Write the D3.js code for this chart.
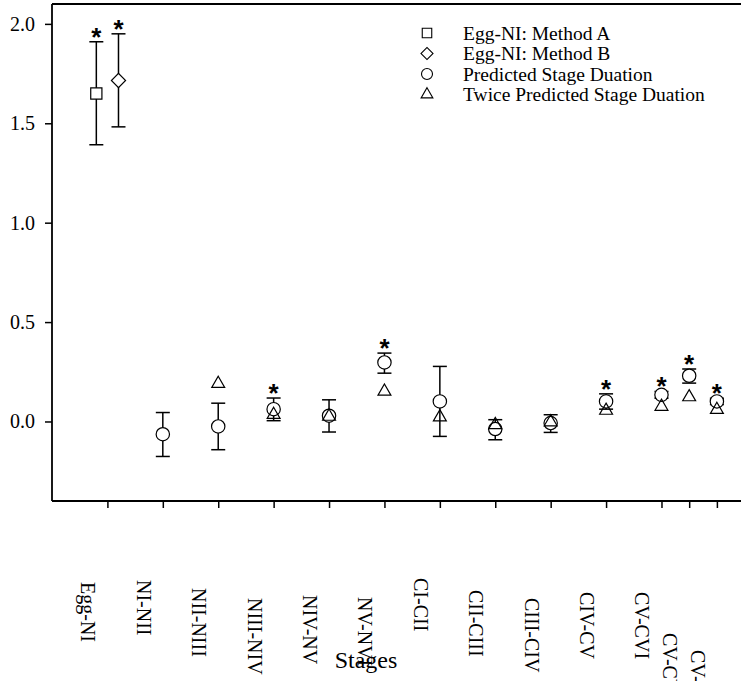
<!DOCTYPE html>
<html>
<head>
<meta charset="utf-8">
<script src="https://cdn.jsdelivr.net/npm/d3@7"></script>
<style>
  body { margin: 0; background: #fff; }
  svg { display: block; }
  text { font-family: "Liberation Serif", "Times New Roman", serif; fill: #000; }
</style>
</head>
<body>
<svg id="chart" width="741" height="681"></svg>
<script>
// ---- data ----
const stages = ["Egg-NI", "NI-NII", "NII-NIII", "NIII-NIV", "NIV-NV", "NV-NVI",
                "CI-CII", "CII-CIII", "CIII-CIV", "CIV-CV", "CV-CVI", "CV-CVI (F)", "CV-CVI (M)"];
const stagePos = [0, 1, 2, 3, 4, 5, 6, 7, 8, 9, 10, 10.5, 11];

// Egg-NI estimates: Method A, Method B
const eggValue = [1.650, 1.715];
const eggLower = [1.392, 1.482];
const eggUpper = [1.910, 1.950];
const eggSig   = [true, true];

// Predicted stage duration (per stage, null where not estimated)
const predValue = [null, -0.064, -0.025, 0.062, 0.029, 0.297, 0.101, -0.038, -0.008, 0.101, 0.134, 0.230, 0.101];
const predLower = [null, -0.176, -0.142, 0.004, -0.053, 0.243, -0.075, -0.092, -0.055, 0.062, 0.117, 0.193, 0.085];
const predUpper = [null, 0.045, 0.092, 0.118, 0.109, 0.344, 0.277, 0.009, 0.034, 0.139, 0.151, 0.264, 0.117];
const predSig   = [false, false, false, true, false, true, false, false, false, true, true, true, true];

// Twice predicted stage duration
const twiceValue = [null, null, 0.190, 0.034, 0.025, 0.151, 0.022, -0.017, -0.003, 0.055, 0.075, 0.123, 0.059];

const yTicks = [0, 0.5, 1.0, 1.5, 2.0];
const legendLabels = ["Egg-NI: Method A", "Egg-NI: Method B", "Predicted Stage Duation", "Twice Predicted Stage Duation"];

// ---- layout ----
const serif = '"Liberation Serif", "Times New Roman", serif';
const svg = d3.select("#chart");
const plotLeft = 52, plotTop = 4, plotBottom = 501, plotRight = 800;
const x = d3.scaleLinear().domain([-1, 12.5]).range([plotLeft, plotRight]);
const y = d3.scaleLinear().domain([-0.4, 2.1]).range([plotBottom, plotTop]);

const symSquare = d3.symbol().type(d3.symbolSquare).size(125);
const symDiamond = d3.symbol().type(d3.symbolSquare).size(100);   // drawn rotated 45°
const symCircle = d3.symbol().type(d3.symbolCircle).size(140);
const symTriangle = d3.symbol().type(d3.symbolTriangle).size(72);

// frame: top line and the two axes
svg.append("line").attr("x1", plotLeft).attr("x2", plotRight).attr("y1", plotTop).attr("y2", plotTop)
  .attr("stroke", "#000").attr("stroke-width", 2);

const yAxis = svg.append("g").attr("transform", `translate(${plotLeft},0)`)
  .call(d3.axisLeft(y).tickValues(yTicks).tickFormat(d3.format(".1f")).tickSizeOuter(0).tickSize(7).tickPadding(10));
yAxis.attr("font-family", null).attr("font-size", null);
yAxis.select(".domain").attr("stroke-width", 1.8).attr("d", `M0,${plotTop}V${plotBottom}`);
yAxis.selectAll(".tick line").attr("stroke-width", 1.5);
yAxis.selectAll(".tick text").style("font-family", serif).style("font-size", "20px");

const xAxis = svg.append("g").attr("transform", `translate(0,${plotBottom})`)
  .call(d3.axisBottom(x).tickValues(stagePos).tickFormat("").tickSizeOuter(0).tickSize(7));
xAxis.select(".domain").attr("stroke-width", 1.8).attr("d", `M${plotLeft},0H${plotRight}`);
xAxis.selectAll(".tick line").attr("stroke-width", 1.5);

// rotated stage labels, each hung at its own depth below the axis
const labelTop = [582, 580, 588, 598, 595, 597, 578, 590, 598, 592, 592, 633, 650];
svg.append("g").selectAll("text").data(stages).join("text")
  .attr("transform", (d, i) => `translate(${x(stagePos[i]) - 26},${labelTop[i]}) rotate(90)`)
  .style("font-family", serif).style("font-size", "20px")
  .attr("text-anchor", "start")
  .text(d => d);

svg.append("text").attr("x", 366).attr("y", 668).attr("text-anchor", "middle")
  .style("font-family", serif).style("font-size", "24px").text("Stages");

// error bars
const capW = 7;
function errorBar(g, cx, lo, hi) {
  g.append("line").attr("x1", cx).attr("x2", cx).attr("y1", y(lo)).attr("y2", y(hi))
    .attr("stroke", "#000").attr("stroke-width", 1.5);
  [lo, hi].forEach(v => g.append("line").attr("x1", cx - capW).attr("x2", cx + capW)
    .attr("y1", y(v)).attr("y2", y(v)).attr("stroke", "#000").attr("stroke-width", 1.5));
}
function star(g, cx, hi) {
  g.append("text").attr("x", cx).attr("y", y(hi) - 11 + 15)
    .attr("text-anchor", "middle")
    .style("font-family", '"Liberation Sans", Arial, sans-serif')
    .style("font-weight", "bold").style("font-size", "26px").text("*");
}

const marks = svg.append("g");
const eggOffset = [-0.2, 0.2];
const eggSym = [symSquare, symDiamond];
const eggRot = [0, 45];
eggValue.forEach((v, k) => {
  const cx = x(stagePos[0] + eggOffset[k]);
  errorBar(marks, cx, eggLower[k], eggUpper[k]);
  marks.append("path").attr("d", eggSym[k]())
    .attr("transform", `translate(${cx},${y(v)}) rotate(${eggRot[k]})`)
    .attr("fill", "#fff").attr("stroke", "#000").attr("stroke-width", 1.2);
  if (eggSig[k]) star(marks, cx, eggUpper[k]);
});

predValue.forEach((v, i) => {
  if (v === null) return;
  const cx = x(stagePos[i]);
  errorBar(marks, cx, predLower[i], predUpper[i]);
  marks.append("path").attr("d", symCircle()).attr("transform", `translate(${cx},${y(v)})`)
    .attr("fill", "#fff").attr("stroke", "#000").attr("stroke-width", 1.2);
  if (predSig[i]) star(marks, cx, predUpper[i]);
});

twiceValue.forEach((v, i) => {
  if (v === null) return;
  const cx = x(stagePos[i]);
  marks.append("path").attr("d", symTriangle()).attr("transform", `translate(${cx},${y(v)})`)
    .attr("fill", "none").attr("stroke", "#000").attr("stroke-width", 1.2);
});

// legend
const legSyms = [
  d3.symbol().type(d3.symbolSquare).size(90),
  d3.symbol().type(d3.symbolSquare).size(72),
  d3.symbol().type(d3.symbolCircle).size(95),
  d3.symbol().type(d3.symbolTriangle).size(60)
];
const legRot = [0, 45, 0, 0];
const legend = svg.append("g");
legendLabels.forEach((t, k) => {
  const ly = 33 + k * 20.5;
  legend.append("path").attr("d", legSyms[k]()).attr("transform", `translate(427,${ly}) rotate(${legRot[k]})`)
    .attr("fill", "#fff").attr("stroke", "#000").attr("stroke-width", 1.1);
  legend.append("text").attr("x", 463).attr("y", ly).attr("dy", "0.35em")
    .style("font-family", serif).style("font-size", "19.5px").text(t);
});
</script>
</body>
</html>
